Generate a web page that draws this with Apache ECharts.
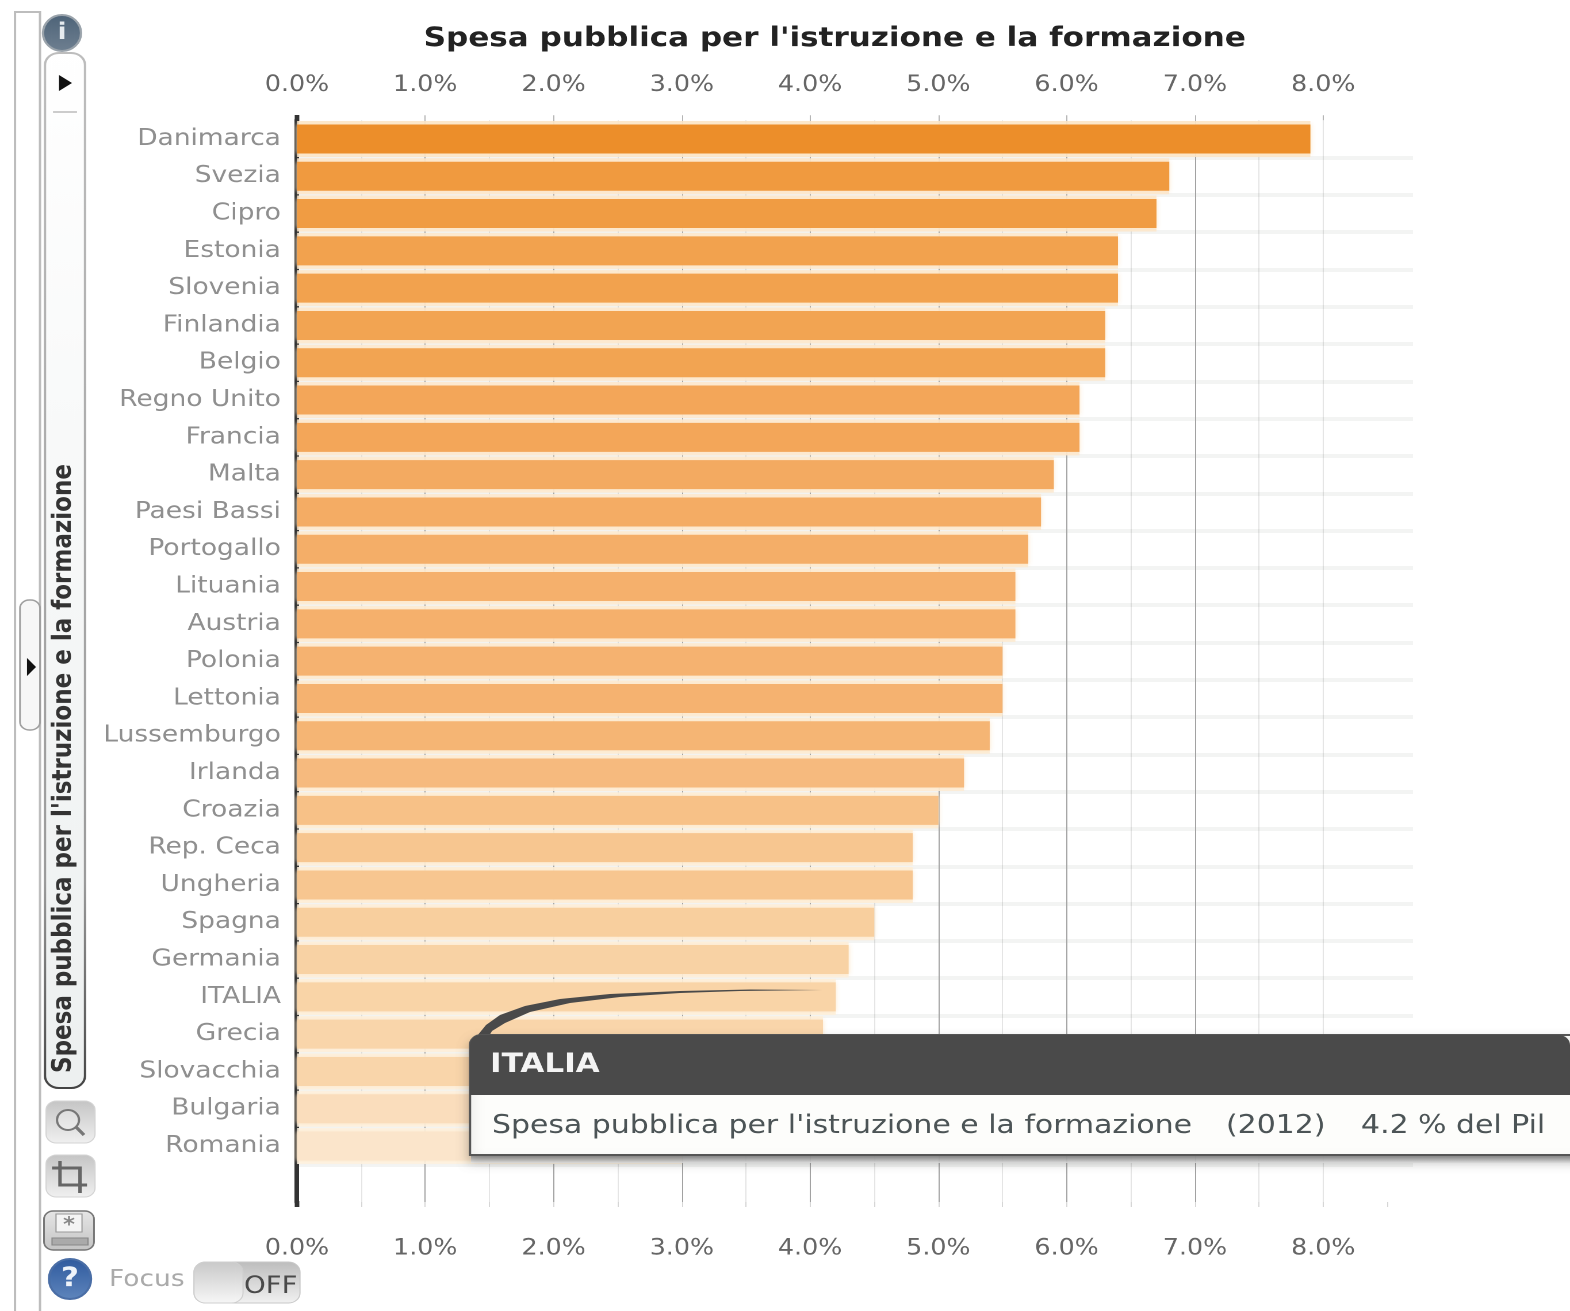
<!DOCTYPE html>
<html>
<head>
<meta charset="utf-8">
<title>Spesa pubblica per l'istruzione e la formazione</title>
<style>
  html, body { margin: 0; padding: 0; background: #fff; overflow: hidden; }
  /* The page is laid out on a narrower logical width and widened to full size */
  #chart { width: 1365px; height: 1311px; transform: scaleX(1.15018); transform-origin: 0 0; }
</style>
<script src="https://cdn.jsdelivr.net/npm/echarts@6/dist/echarts.min.js"></script>
</head>
<body>
<div id="chart"></div>
<script>
const titleText = "Spesa pubblica per l'istruzione e la formazione";
const categories = ['Danimarca','Svezia','Cipro','Estonia','Slovenia','Finlandia','Belgio','Regno Unito','Francia','Malta','Paesi Bassi','Portogallo','Lituania','Austria','Polonia','Lettonia','Lussemburgo','Irlanda','Croazia','Rep. Ceca','Ungheria','Spagna','Germania','ITALIA','Grecia','Slovacchia','Bulgaria','Romania'];
const values = [7.9,6.8,6.7,6.4,6.4,6.3,6.3,6.1,6.1,5.9,5.8,5.7,5.6,5.6,5.5,5.5,5.4,5.2,5.0,4.8,4.8,4.5,4.3,4.2,4.1,4.1,3.5,3.0];
const majorTicks = [0,1,2,3,4,5,6,7,8];
const minorTicks = [0,0.5,1,1.5,2,2.5,3,3.5,4,4.5,5,5.5,6,6.5,7,7.5,8,8.5];
const highlighted = 'ITALIA';
const year = '2012';

const WIDTH = 1365;
const SX = 1570 / WIDTH;
const X = px => px / SX;
const FONT = '"DejaVu Sans", Verdana, sans-serif';

// Bar shade runs from deep orange to pale peach with the value
const rampValues = [3.0, 4.5, 5.5, 6.8, 7.9];
const rampColors = ['#fbe4cb', '#f8cd9b', '#f4ae6a', '#ef9536', '#eb8820'];
function shade(v) {
  for (let i = 0; i < rampValues.length - 1; i++) {
    if (v <= rampValues[i + 1]) {
      const t = (v - rampValues[i]) / (rampValues[i + 1] - rampValues[i]);
      return echarts.color.lerp(t, [rampColors[i], rampColors[i + 1]]);
    }
  }
  return rampColors[rampColors.length - 1];
}
// Cream band that sits behind each bar
const halo = v => echarts.color.lerp(0.85, [shade(v), '#fff6e6']);

const chart = echarts.init(document.getElementById('chart'), null, { renderer: 'canvas', devicePixelRatio: 2 });

const vGrad = (a, b) => ({ type: 'linear', x: 0, y: 0, x2: 0, y2: 1, colorStops: [{ offset: 0, color: a }, { offset: 1, color: b }] });
const box = (x0, y0, x1, y1, r, style, z) => ({
  type: 'rect', z: z || 5, silent: true,
  shape: { x: X(x0), y: y0, width: X(x1) - X(x0), height: y1 - y0, r },
  style
});
const label = (text, x, y, style, z) => ({
  type: 'text', z: z || 6, silent: true, x: X(x), y,
  style: Object.assign({ text, font: '26px ' + FONT, fill: '#555', align: 'left', verticalAlign: 'middle' }, style)
});
const oval = (cx, cy, rx, ry, style, z) => ({
  type: 'ellipse', z: z || 5, silent: true,
  shape: { cx: X(cx), cy, rx: X(rx), ry }, style
});
const pts = list => list.map(([x, y]) => [X(x), y]);
const solid = (list, style, z) => ({ type: 'polygon', z: z || 6, silent: true, shape: { points: pts(list) }, style });
const stroke = (list, style, z) => ({ type: 'polyline', z: z || 6, silent: true, shape: { points: pts(list) }, style: Object.assign({ fill: null }, style) });

const tipValue = values[categories.indexOf(highlighted)];

const panelControls = [
  // side rail and its handle
  box(15, 12, 40, 1330, 0, { fill: '#fff', stroke: '#bdbdbd', lineWidth: 2 }),
  box(20, 600, 40, 730, 8, { fill: '#f7f7f7', stroke: '#a0a0a0', lineWidth: 1.5 }),
  solid([[27, 658], [36, 667], [27, 676]], { fill: '#111' }),

  // indicator tab
  box(45, 53, 85, 1088, 12, {
    fill: vGrad('#ffffff', '#edf0f0'),
    stroke: { type: 'linear', x: 0, y: 0, x2: 0, y2: 1, colorStops: [{ offset: 0, color: '#bdbdbd' }, { offset: 0.8, color: '#9a9a9a' }, { offset: 1, color: '#444' }] },
    lineWidth: 2
  }),
  solid([[59, 75], [72, 83], [59, 91]], { fill: '#111' }),
  stroke([[53, 112], [77, 112]], { stroke: '#bbb', lineWidth: 1.5 }),
  {
    type: 'text', z: 6, silent: true, x: X(64), y: 1073, rotation: Math.PI / 2,
    style: { text: titleText, font: 'bold 23px ' + FONT, fill: '#333', align: 'left', verticalAlign: 'middle' }
  },

  // info button
  oval(62, 33, 19, 18, { fill: vGrad('#4d6378', '#6f8091'), stroke: '#9aa3ab', lineWidth: 2 }),
  label('i', 62, 33, { font: 'bold 23px ' + FONT, fill: '#e6ebef', align: 'center' }),

  // search button
  box(46, 1101, 95, 1143, 9, { fill: vGrad('#c5c5c5', '#f1f1f1'), stroke: '#d4d4d4', lineWidth: 1 }),
  oval(68, 1120, 11, 10, { fill: 'rgba(255,255,255,0.3)', stroke: '#777', lineWidth: 2 }),
  stroke([[76, 1127], [84, 1135]], { stroke: '#777', lineWidth: 3 }),

  // crop button
  box(46, 1155, 95, 1197, 9, { fill: vGrad('#c5c5c5', '#f1f1f1'), stroke: '#d4d4d4', lineWidth: 1 }),
  stroke([[52, 1168], [80, 1168], [80, 1193]], { stroke: '#666', lineWidth: 3 }),
  stroke([[60, 1161], [60, 1185], [87, 1185]], { stroke: '#666', lineWidth: 3 }),

  // print button
  box(44, 1211, 94, 1250, 8, { fill: vGrad('#e6e6e6', '#c4c4c4'), stroke: '#777', lineWidth: 1.5 }),
  box(56, 1214, 82, 1232, 0, { fill: '#f4f4f4', stroke: '#999', lineWidth: 1 }),
  label('*', 69, 1226, { font: 'bold 20px ' + FONT, fill: '#888', align: 'center' }),
  box(52, 1238, 88, 1245, 0, { fill: '#aaa', stroke: '#888', lineWidth: 1 }),

  // help button
  oval(70, 1279, 21, 20, { fill: vGrad('#2f5a9e', '#5f86bd'), stroke: '#4a6ea6', lineWidth: 2 }),
  label('?', 70, 1279, { font: 'bold 27px ' + FONT, fill: '#eef3fa', align: 'center' }),

  // focus switch
  label('Focus', 109, 1280, { fill: '#aaaaaa', font: '23px ' + FONT }),
  box(194, 1262, 300, 1303, 10, { fill: vGrad('#bdbdbd', '#f2f2f2'), stroke: '#c8c8c8', lineWidth: 1 }),
  box(194, 1262, 243, 1303, 10, { fill: vGrad('#c9c9c9', '#f7f7f7'), stroke: '#cfcfcf', lineWidth: 1 }),
  label('OFF', 244, 1287, { fill: '#4a4a4a', font: '24px ' + FONT }),

  // the value axis line runs slightly past the rows at both ends
  stroke([[297, 115], [297, 121]], { stroke: '#333', lineWidth: 4 }, 1),
  stroke([[297, 1201], [297, 1207]], { stroke: '#333', lineWidth: 4 }, 1)
];

const tipBox = [
  // pointer running from the bar to the callout
  solid([
    [822, 990], [740, 991], [680, 993], [620, 997], [570, 1003], [530, 1012], [505, 1023], [492, 1031],
    [486, 1041], [471, 1062], [472, 1049], [477, 1036], [486, 1025], [500, 1015], [525, 1006],
    [560, 999], [610, 994], [680, 991], [750, 989.5]
  ], { fill: '#4a4a4a' }, 40),
  // clears the row behind the callout's lower edge
  box(471, 1154, 1570, 1163, 0, { fill: vGrad('rgba(150,150,150,0.95)', 'rgba(250,250,250,0.9)') }, 39),
  // body with shadow
  box(470, 1035, 1590, 1155, [10, 0, 0, 0], {
    fill: '#fdfdfb', stroke: '#555', lineWidth: 2,
    shadowColor: 'rgba(0,0,0,0.25)', shadowBlur: 10, shadowOffsetY: 6
  }, 40),
  // heading strip
  box(470, 1035, 1570, 1095, [10, 10, 0, 0], { fill: '#4a4a4a' }, 41),
  label(highlighted, 490, 1065, { fill: '#f4f4f4', font: 'bold 27px ' + FONT }, 42),
  label(titleText, 492, 1126, { fill: '#4c5456' }, 42),
  label(`(${year})`, 1226, 1126, { fill: '#4c5456' }, 42),
  label(`${tipValue.toFixed(1)} % del Pil`, 1361, 1126, { fill: '#4c5456' }, 42)
];

const axisText = { fontFamily: FONT, fontSize: 22, color: '#666' };
const pct = v => v.toFixed(1) + '%';

chart.setOption({
  animation: false,
  backgroundColor: '#fff',
  title: {
    text: titleText, left: X(829), top: 34, textAlign: 'center', textVerticalAlign: 'middle',
    textStyle: { fontFamily: FONT, fontSize: 27, fontWeight: 'bold', color: '#222' }
  },
  grid: { left: X(297), right: WIDTH - X(1413), top: 120.3, bottom: 109 },
  xAxis: [
    {
      type: 'value', position: 'top', min: 0, max: 8.7, interval: 1,
      axisLine: { show: false },
      axisTick: { show: true, length: 5, customValues: majorTicks, lineStyle: { color: '#b5b5b5' } },
      axisLabel: { ...axisText, margin: 24, customValues: majorTicks, formatter: pct },
      splitLine: { show: true, showMaxLine: false, lineStyle: { color: '#b5b5b5', width: 1 } }
    },
    {
      type: 'value', position: 'bottom', min: 0, max: 8.7, interval: 0.5,
      axisLine: { show: false },
      axisTick: { show: true, length: 5, customValues: minorTicks, lineStyle: { color: '#d6d6d6' } },
      axisLabel: { ...axisText, margin: 36, customValues: majorTicks, formatter: pct },
      splitLine: { show: true, showMaxLine: false, lineStyle: { color: 'rgba(0,0,0,0.1)', width: 1 } }
    }
  ],
  yAxis: [
    {
      type: 'category', inverse: true, data: categories.concat(['']),
      axisLine: { show: true, onZero: false, lineStyle: { color: '#333', width: 4 } },
      axisTick: { show: false },
      axisLabel: { interval: 0, margin: 14, fontFamily: FONT, fontSize: 23, color: '#8f8f8f', padding: [0, 0, 7, 0] },
      splitLine: { show: true, interval: 0, showMinLine: false, showMaxLine: false, lineStyle: { color: '#f3f4f3', width: 4 } }
    },
    { type: 'category', inverse: true, show: false, data: categories.concat(['']) }
  ],
  series: [
    {
      // cream band behind the bars, on its own hidden category axis
      type: 'bar', xAxisIndex: 0, yAxisIndex: 1, barWidth: 36, silent: true, z: 1,
      data: values.map(v => ({ value: v, itemStyle: { color: halo(v), opacity: 0.9 } }))
    },
    {
      type: 'bar', xAxisIndex: 0, yAxisIndex: 0, barWidth: 29, silent: true, z: 2,
      data: values.map(v => ({
        value: v,
        itemStyle: { color: shade(v), opacity: 0.94, shadowColor: '#fde6c3', shadowBlur: 4 }
      }))
    }
  ],
  graphic: { elements: panelControls.concat(tipBox) }
});
</script>
</body>
</html>
